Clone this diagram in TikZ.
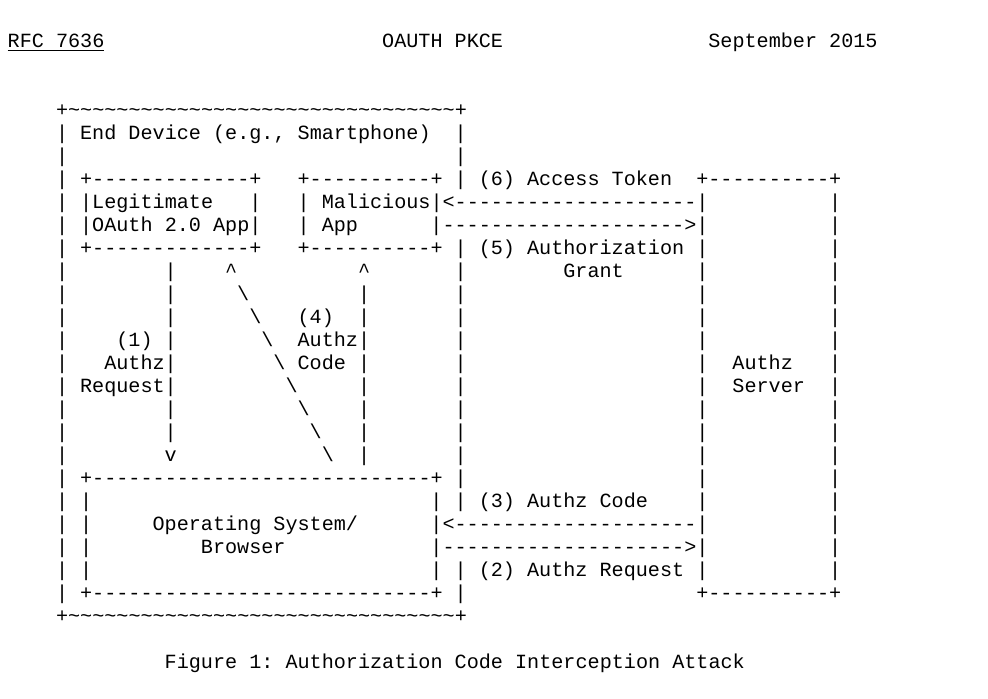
\documentclass[tikz,border=0pt]{standalone}
\usepackage{fontspec}
\setmonofont{Liberation Mono}
\usepackage{tikz}
\usetikzlibrary{positioning}
\tikzset{x=0.5pt, y=0.5pt,
    ascii/.style={anchor=base west, inner sep=0pt, outer sep=0pt,
        font=\ttfamily\fontsize{10.07}{12}\selectfont}}
% one text run at column #2 of line #1
\newcommand\seg[3]{\node[ascii] (r#1c#2) at ({7.68+12.08*#2}, {698-43-23*#1-4}) {\frenchspacing #3};}
\newcommand\bars[2]{\foreach \c in {#2} {\seg{#1}{\c}{|}}}
\newcommand\rep[2]{\foreach \k in {1,...,#1}{#2}}
\newcommand\tld{\textasciitilde}
\newcommand\bsl{\textbackslash}

\begin{document}
\begin{tikzpicture}
\useasboundingbox (0,0) rectangle (988,698);
% header
\seg{0}{0}{\underline{RFC 7636}}
\seg{0}{31}{OAUTH PKCE}
\seg{0}{58}{September 2015}
% end device
\seg{3}{4}{+\rep{32}{\tld}+}
\bars{4}{4,37} \seg{4}{6}{End Device (e.g., Smartphone)}
\bars{5}{4,37}
\bars{6}{4,37}
\seg{6}{6}{+\rep{13}{-}+} \seg{6}{24}{+\rep{10}{-}+}
\seg{6}{39}{(6) Access Token} \seg{6}{57}{+\rep{10}{-}+}
\bars{7}{4,20,68}
\seg{7}{6}{|Legitimate} \seg{7}{24}{| Malicious|<\rep{20}{-}|}
\bars{8}{4,68}
\seg{8}{6}{|OAuth 2.0 App|} \seg{8}{24}{| App} \seg{8}{35}{|\rep{20}{-}>|}
\bars{9}{4,37,57,68}
\seg{9}{6}{+\rep{13}{-}+} \seg{9}{24}{+\rep{10}{-}+} \seg{9}{39}{(5) Authorization}
\bars{10}{4,13,37,57,68}
\seg{10}{18}{\textasciicircum} \seg{10}{29}{\textasciicircum} \seg{10}{46}{Grant}
% flows (1) and (4)
\bars{11}{4,13,29,37,57,68} \seg{11}{19}{\bsl}
\bars{12}{4,13,29,37,57,68} \seg{12}{20}{\bsl} \seg{12}{24}{(4)}
\bars{13}{4,13,29,37,57,68} \seg{13}{9}{(1)} \seg{13}{21}{\bsl} \seg{13}{24}{Authz}
\bars{14}{4,13,29,37,57,68} \seg{14}{8}{Authz} \seg{14}{22}{\bsl} \seg{14}{24}{Code} \seg{14}{60}{Authz}
\bars{15}{4,13,29,37,57,68} \seg{15}{6}{Request} \seg{15}{23}{\bsl} \seg{15}{60}{Server}
\bars{16}{4,13,29,37,57,68} \seg{16}{24}{\bsl}
\bars{17}{4,13,29,37,57,68} \seg{17}{25}{\bsl}
\bars{18}{4,29,37,57,68} \seg{18}{13}{v} \seg{18}{26}{\bsl}
% operating system
\bars{19}{4,37,57,68} \seg{19}{6}{+\rep{28}{-}+}
\bars{20}{4,6,35,37,57,68} \seg{20}{39}{(3) Authz Code}
\bars{21}{4,6,68} \seg{21}{12}{Operating System/} \seg{21}{35}{|<\rep{20}{-}|}
\bars{22}{4,6,68} \seg{22}{16}{Browser} \seg{22}{35}{|\rep{20}{-}>|}
\bars{23}{4,6,35,37,57,68} \seg{23}{39}{(2) Authz Request}
\bars{24}{4,37} \seg{24}{6}{+\rep{28}{-}+} \seg{24}{57}{+\rep{10}{-}+}
\seg{25}{4}{+\rep{32}{\tld}+}
% caption
\seg{27}{13}{Figure 1: Authorization Code Interception Attack}
\end{tikzpicture}
\end{document}
